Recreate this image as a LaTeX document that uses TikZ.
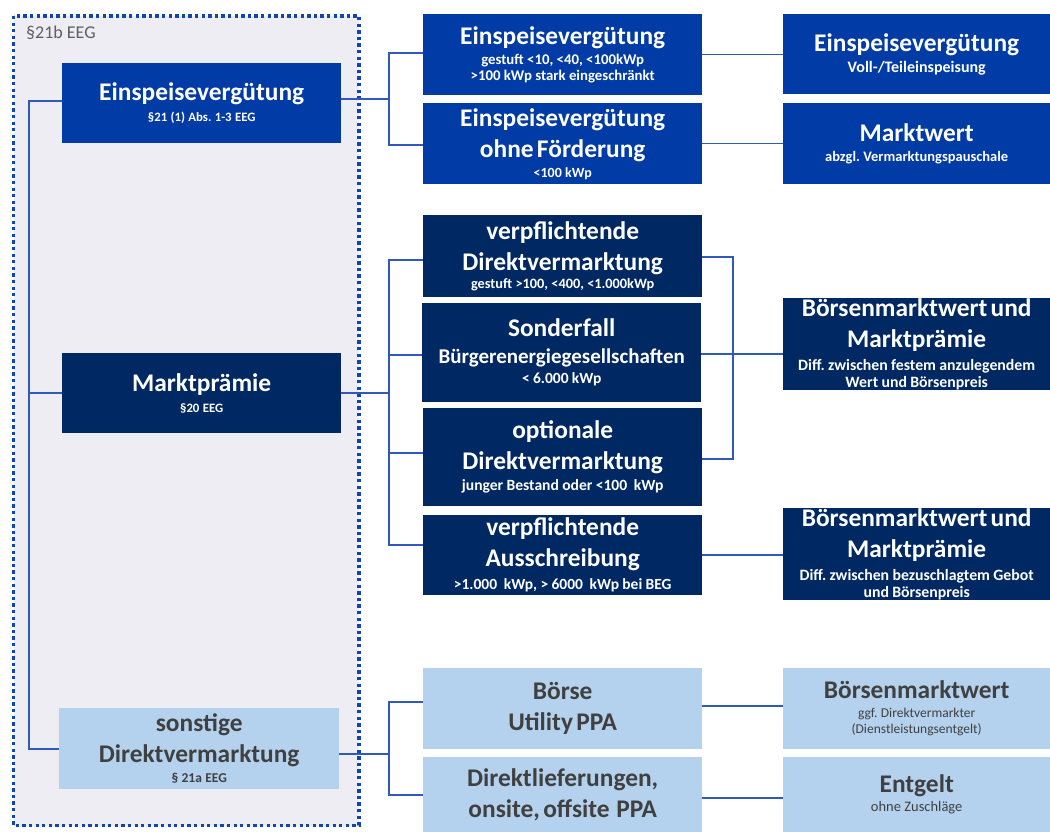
\documentclass[tikz,border=0pt]{standalone}
\usepackage{fontspec}
\setmainfont{Carlito}
\frenchspacing
\definecolor{midblue}{RGB}{0,59,166}
\definecolor{navy}{RGB}{0,41,99}
\definecolor{lightblue}{RGB}{180,210,237}
\definecolor{linec}{RGB}{47,89,190}
\definecolor{framefill}{RGB}{237,237,243}
\definecolor{dotc}{RGB}{16,70,180}
\definecolor{txtgray}{RGB}{64,64,64}
\definecolor{lblgray}{RGB}{95,95,95}
\newcommand\ttl{\fontsize{25.4}{31}\selectfont}
\newcommand\st[1]{\fontsize{#1}{17}\selectfont}
\pgfdeclarelayer{framelayer}
\pgfdeclarelayer{lines}
\pgfsetlayers{framelayer,lines,main}
\tikzset{
  box/.style={anchor=north west, inner sep=0pt, align=center, font=\bfseries},
  mb/.style={box, fill=midblue, text=white},
  nb/.style={box, fill=navy, text=white},
  lb/.style={box, fill=lightblue, text=txtgray},
  mw/.style={minimum width=279pt, text width=275pt},
  rw/.style={minimum width=267pt, text width=265pt},
  conn/.style={draw=linec, line width=1.6pt},
}
\begin{document}
\begin{tikzpicture}[x=1pt,y=-1pt]
\useasboundingbox (0,0) rectangle (1050,832);
\begin{pgfonlayer}{framelayer}
\fill[framefill] (13.5,16) rectangle (359,825.5);
\draw[dotc, line width=3.3pt, dash pattern=on 3.3pt off 3.3pt] (13.5,16) rectangle (359,825.5);
\end{pgfonlayer}
\node[anchor=base west, inner sep=0pt, text=lblgray, font=\fontsize{18}{20}\selectfont] (lbl) at (26,39) {§21b EEG};

% left column
\node[mb, mw, minimum height=80pt] (E0) at (62,63) {\ttl Einspeisevergütung\par\vspace{4pt}\st{12.8}§21 (1) Abs. 1-3 EEG\par};
\node[nb, mw, minimum height=80pt] (M0) at (62,353) {\ttl Marktprämie\par\vspace{4pt}\st{12.8}§20 EEG\par};
\node[lb, minimum width=280pt, text width=276pt, minimum height=81pt] (S0) at (59,708) {\ttl sonstige\\Direktvermarktung\par\vspace{3pt}\st{13.5}§ 21a EEG\par};

% middle column
\node[mb, mw, minimum height=81pt] (E1) at (423,14) {\ttl Einspeisevergütung\par\vspace{4.5pt}\fontsize{14.8}{15.5}\selectfont gestuft <10, <40, <100kWp\\>100 kWp stark eingeschränkt\par};
\node[mb, mw, minimum height=81pt] (E2) at (423,103) {\ttl Einspeisevergütung\\ohne Förderung\par\vspace{3pt}\st{14}<100 kWp\par};
\node[nb, mw, minimum height=82pt] (D1) at (423,215) {\ttl verpflichtende\\Direktvermarktung\par\vspace{1pt}\st{14.3}gestuft >100, <400, <1.000kWp\par};
\node[nb, mw, minimum height=99pt] (D2) at (422,303) {\ttl Sonderfall\par\vspace{3pt}\fontsize{21}{24}\selectfont Bürgerenergiegesellschaften\par\fontsize{15.5}{20}\selectfont < 6.000 kWp\par};
\node[nb, mw, minimum height=98pt] (D3) at (423,408) {\ttl optionale\\Direktvermarktung\par\vspace{4pt}\st{15.6}junger Bestand oder <100\ \ kWp\par};
\node[nb, mw, minimum height=80pt] (D4) at (423,515) {\ttl verpflichtende\\Ausschreibung\par\vspace{6pt}\st{15.5}>1.000\ \ kWp, >\ 6000\ \ kWp bei BEG\par};
\node[lb, mw, minimum height=81pt] (L1) at (423,668) {\ttl Börse\\Utility PPA\par};
\node[lb, mw, minimum height=75pt] (L2) at (423,757) {\ttl Direktlieferungen,\\onsite, offsite\ \ PPA\par};

% right column
\node[mb, rw, minimum height=80pt] (R1) at (783,14) {\ttl Einspeisevergütung\par\vspace{4pt}\st{16}Voll-/Teileinspeisung\par};
\node[mb, rw, minimum height=81pt] (R2) at (783,103) {\ttl Marktwert\par\vspace{3pt}\st{14.5}abzgl. Vermarktungspauschale\par};
\node[nb, rw, minimum height=92pt] (R3) at (783,298) {\ttl Börsenmarktwert und\\Marktprämie\par\vspace{6pt}\st{15.8}Diff. zwischen festem anzulegendem\\Wert und Börsenpreis\par};
\node[nb, rw, minimum height=92pt] (R4) at (783,508) {\ttl Börsenmarktwert und\\Marktprämie\par\vspace{6pt}\st{15.8}Diff. zwischen bezuschlagtem Gebot\\und Börsenpreis\par};
\node[lb, rw, minimum height=81pt] (R5) at (783,668) {\ttl Börsenmarktwert\par\vspace{3pt}\fontsize{13.5}{16}\selectfont\mdseries ggf. Direktvermarkter\\(Dienstleistungsentgelt)\par};
\node[lb, rw, minimum height=75pt] (R6) at (783,757) {\ttl Entgelt\par\vspace{2pt}\st{14.5}\mdseries ohne Zuschläge\par};

% bracket coordinates
\coordinate (bx0) at (29,0);
\coordinate (bx1) at (389,0);
\coordinate (bx2) at (733,0);

\begin{pgfonlayer}{lines}
% main left bracket
\draw[conn] ([yshift=2pt]E0.west) -- ([yshift=2pt]E0.west -| bx0) -- (S0.west -| bx0) -- (S0.west);
\draw[conn] (M0.west) -- (M0.west -| bx0);
% top group
\draw[conn] ([yshift=4pt]E0.east) -- ([yshift=4pt]E0.east -| bx1);
\draw[conn] ([yshift=1.5pt]E1.west) -- ([yshift=1.5pt]E1.west -| bx1) -- ([yshift=-1.5pt]E2.west -| bx1) -- ([yshift=-1.5pt]E2.west);
\draw[conn] (E1.east) -- (E1.east -| R1.west);
\draw[conn] (E2.east) -- (E2.east -| R2.west);
% middle group
\draw[conn] (M0.east) -- (M0.east -| bx1);
\draw[conn] ([yshift=-4pt]D1.west) -- ([yshift=-4pt]D1.west -| bx1) -- ([yshift=10pt]D4.west -| bx1) -- ([yshift=10pt]D4.west);
\draw[conn] ([yshift=-2.5pt]D2.west) -- ([yshift=-2.5pt]D2.west -| bx1);
\draw[conn] ([yshift=4pt]D3.west) -- ([yshift=4pt]D3.west -| bx1);
\draw[conn] ([yshift=-1pt]D1.east) -- ([yshift=-1pt]D1.east -| bx2) -- ([yshift=-2pt]D3.east -| bx2) -- ([yshift=-2pt]D3.east);
\draw[conn] ([yshift=-1.5pt]D2.east) -- ([yshift=-1.5pt]D2.east -| R3.west);
\draw[conn] (D4.east) -- (D4.east -| R4.west);
% bottom group
\draw[conn] ([yshift=-5.5pt]S0.east) -- ([yshift=-5.5pt]S0.east -| bx1);
\draw[conn] ([yshift=6.5pt]L1.west) -- ([yshift=6.5pt]L1.west -| bx1) -- (L2.west -| bx1) -- (L2.west);
\draw[conn] ([yshift=2.5pt]L1.east) -- ([yshift=2.5pt]L1.east -| R5.west);
\draw[conn] ([yshift=-3.5pt]L2.east) -- ([yshift=-3.5pt]L2.east -| R6.west);
\end{pgfonlayer}
\end{tikzpicture}
\end{document}
